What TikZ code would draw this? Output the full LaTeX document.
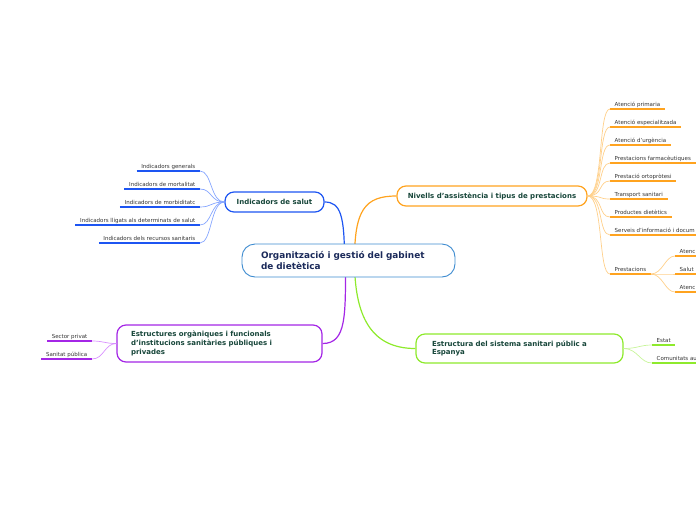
\documentclass[tikz,border=0pt]{standalone}
\usepackage{fontspec}
\setmainfont{DejaVu Sans}
\usetikzlibrary{backgrounds}
\definecolor{TitleInk}{HTML}{1B2A5A}
\definecolor{TopicInk}{HTML}{17463A}
\definecolor{LeafInk}{HTML}{333333}
\definecolor{CentreLine}{HTML}{3D8BD0}
\definecolor{BlueLine}{HTML}{1D55F2}
\definecolor{BlueSoft}{HTML}{86A6FF}
\definecolor{OrangeLine}{HTML}{FFA31F}
\definecolor{OrangeSoft}{HTML}{FFD08A}
\definecolor{GreenLine}{HTML}{8EEA2C}
\definecolor{GreenSoft}{HTML}{C8F59A}
\definecolor{PurpleLine}{HTML}{A426E6}
\definecolor{PurpleSoft}{HTML}{D88EFF}
\tikzset{
  mindmap/.style={x=1pt,y=-1pt,text=LeafInk},
  centre/.style={draw=CentreLine,line width=0.9pt,rounded corners=13pt,fill=white,
    font=\fontsize{8.9}{11}\selectfont\bfseries,text=TitleInk,align=left},
  topic/.style={draw=#1,line width=1.2pt,rounded corners=9pt,fill=white,
    font=\fontsize{7}{8.7}\selectfont\bfseries,text=TopicInk},
  leaf/.style={inner xsep=4.5pt,inner ysep=1.3pt,text height=4.3pt,text depth=1.2pt,
    font=\fontsize{5.5}{6.5}\selectfont,
    append after command={(\tikzlastnode.south west) edge[uline,draw=#1] (\tikzlastnode.south east)}},
  link/.style={line width=1.2pt},
  twig/.style={line width=0.7pt},
  uline/.style={line width=1.8pt},
}
\begin{document}
\begin{tikzpicture}[mindmap]
  \clip (0,0) rectangle (696,520);

  % central topic and main branches
  \node[centre,minimum width=213pt,minimum height=33pt,text width=175pt,inner xsep=19pt]
    (centre) at (348.5,260.5) {Organització i gestió del gabinet\\de dietètica};
  \node[topic=BlueLine,minimum width=99pt,minimum height=20pt] (ind) at (274.5,202)
    {Indicadors de salut};
  \node[topic=OrangeLine,minimum width=190pt,minimum height=20pt] (niv) at (492,196)
    {Nivells d'assistència i tipus de prestacions};
  \node[topic=GreenLine,minimum width=207pt,minimum height=29pt,text width=175pt,
        inner xsep=16pt,align=left] (sis) at (519.5,348.5)
    {Estructura del sistema sanitari públic a\\Espanya};
  \node[topic=PurpleLine,minimum width=205pt,minimum height=37pt,text width=177pt,
        inner xsep=14pt,align=left] (est) at (219.5,343.5)
    {Estructures orgàniques i funcionals\\d'institucions sanitàries públiques i\\privades};

  \begin{scope}[on background layer]
    \draw[link,BlueLine] ([xshift=-4pt]centre.center) .. controls +(0,-45) and +(16,0) .. (ind.east);
    \draw[link,OrangeLine] ([xshift=6pt]centre.center) .. controls +(0,-50) and +(-32,0) .. (niv.west);
    \draw[link,PurpleLine] ([xshift=-3pt]centre.center) .. controls +(0,55) and +(24,0) .. (est.east);
    \draw[link,GreenLine] ([xshift=6pt]centre.center) .. controls +(0,55) and +(-45,0) .. (sis.west);
  \end{scope}

  % Indicadors de salut
  \node[leaf=BlueLine,anchor=south east] (g1) at (200,171) {Indicadors generals};
  \node[leaf=BlueLine,anchor=south east] (g2) at (200,189) {Indicadors de mortalitat};
  \node[leaf=BlueLine,anchor=south east] (g3) at (200,207) {Indicadors de morbiditatc};
  \node[leaf=BlueLine,anchor=south east] (g4) at (200,225) {Indicadors lligats als determinats de salut};
  \node[leaf=BlueLine,anchor=south east] (g5) at (200,243) {Indicadors dels recursos sanitaris};
  \foreach \g in {g1,g2,g3,g4,g5}
    \draw[twig,BlueSoft] (ind.west) .. controls +(-14,0) and +(12,0) .. (\g.south east);

  % Nivells d'assistencia
  \node[leaf=OrangeLine,anchor=south west] (a1) at (610,109) {Atenció primaria};
  \node[leaf=OrangeLine,anchor=south west] (a2) at (610,127) {Atenció especialitzada};
  \node[leaf=OrangeLine,anchor=south west] (a3) at (610,145) {Atenció d'urgència};
  \node[leaf=OrangeLine,anchor=south west] (a4) at (610,163) {Prestacions farmacèutiques};
  \node[leaf=OrangeLine,anchor=south west] (a5) at (610,181) {Prestació ortopròtesi};
  \node[leaf=OrangeLine,anchor=south west] (a6) at (610,199) {Transport sanitari};
  \node[leaf=OrangeLine,anchor=south west] (a7) at (610,217) {Productes dietètics};
  \node[leaf=OrangeLine,anchor=south west] (a8) at (610,235) {Serveis d'informació i docum};
  \node[leaf=OrangeLine,anchor=south west] (pres) at (610,274) {Prestacions};
  \foreach \a in {a1,a2,a3,a4,a5,a6,a7,a8,pres}
    \draw[twig,OrangeSoft] (niv.east) .. controls +(16,0) and +(-12,0) .. (\a.south west);
  \node[leaf=OrangeLine,anchor=south west] (s1) at (675,256) {Atenc};
  \node[leaf=OrangeLine,anchor=south west] (s2) at (675,274) {Salut};
  \node[leaf=OrangeLine,anchor=south west] (s3) at (675,292) {Atenc};
  \foreach \s in {s1,s2,s3}
    \draw[twig,OrangeSoft] (pres.south east) .. controls +(12,0) and +(-10,0) .. (\s.south west);

  % Estructura del sistema sanitari
  \node[leaf=GreenLine,anchor=south west] (e1) at (652,345) {Estat};
  \node[leaf=GreenLine,anchor=south west] (e2) at (652,363) {Comunitats aut};
  \foreach \e in {e1,e2}
    \draw[twig,GreenSoft] (sis.east) .. controls +(14,0) and +(-12,0) .. (\e.south west);

  % Estructures organiques
  \node[leaf=PurpleLine,anchor=south east] (p1) at (92,341) {Sector privat};
  \node[leaf=PurpleLine,anchor=south east] (p2) at (92,359) {Sanitat pública};
  \foreach \p in {p1,p2}
    \draw[twig,PurpleSoft] (est.west) .. controls +(-12,0) and +(12,0) .. (\p.south east);
\end{tikzpicture}
\end{document}
